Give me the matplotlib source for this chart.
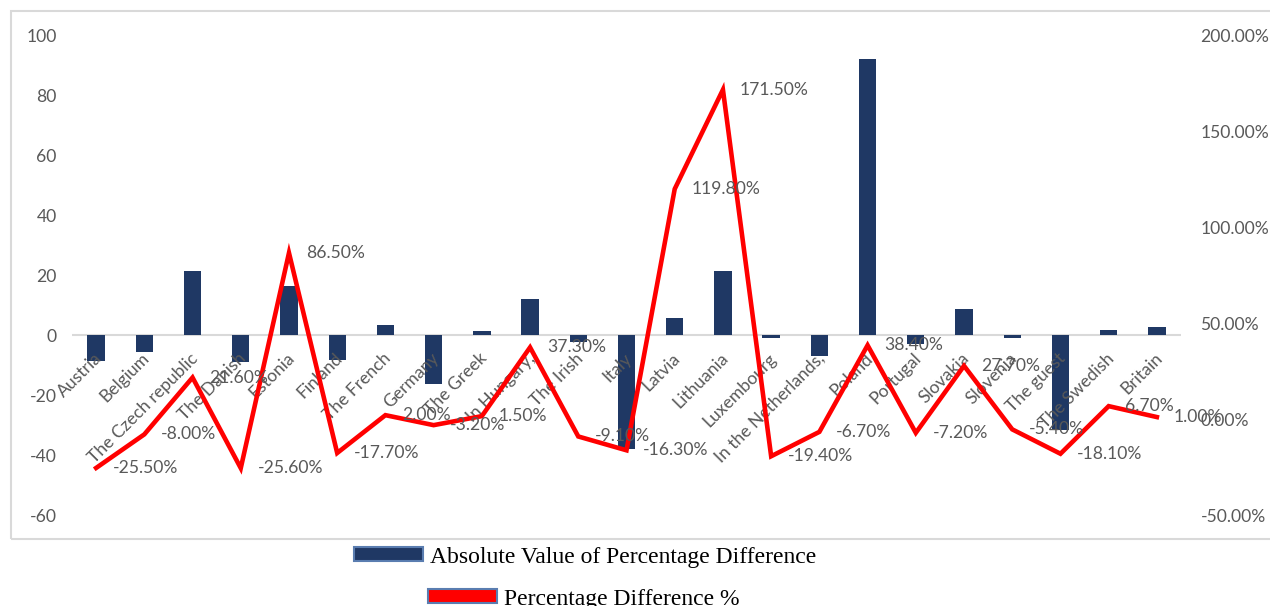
import numpy as np
import matplotlib.pyplot as plt
import matplotlib.patches as mpatches
from matplotlib.ticker import FuncFormatter

# Dados
countries = ["Austria", "Belgium", "The Czech republic", "The Danish", "Estonia",
             "Finland", "The French", "Germany", "The Greek", "In Hungary,",
             "The Irish", "Italy", "Latvia", "Lithuania", "Luxembourg",
             "In the Netherlands,", "Poland", "Portugal", "Slovakia", "Slovenia",
             "The guest", "The Swedish", "Britain"]
abs_diff = [-8.5, -5.7, 21.3, -9.0, 16.4, -8.3, 3.3, -16.3, 1.3, 12.0, -2.3,
            -38.0, 5.8, 21.3, -1.0, -7.0, 92.0, -3.0, 8.7, -1.0, -31.7, 1.7, 2.7]
pct_diff = [-25.5, -8.0, 21.6, -25.6, 86.5, -17.7, 2.0, -3.2, 1.5, 37.3, -9.1,
            -16.3, 119.8, 171.5, -19.4, -6.7, 38.4, -7.2, 27.7, -5.4, -18.1,
            6.7, 1.0]
left_ticks = [-60, -40, -20, 0, 20, 40, 60, 80, 100]
right_ticks = [-50, 0, 50, 100, 150, 200]

bar_color = "#1F3864"
line_color = "#FF0000"
gray_txt = "#595959"
grid_gray = "#D9D9D9"
font = ["Lato", "DejaVu Sans"]
fs = 12.6

plt.rcParams['font.family'] = font
plt.rcParams['axes.unicode_minus'] = False

fig = plt.figure(figsize=(12.7, 6.06), dpi=100)
W, H = 1270, 606

# moldura do grafico
frame = mpatches.Rectangle((11 / W, 1 - 539 / H), 1.1, (539 - 11) / H,
                           transform=fig.transFigure, fill=False,
                           edgecolor=grid_gray, lw=1.5)
fig.patches.append(frame)

ax1 = fig.add_axes([72 / W, 1 - 515 / H, (1181 - 72) / W, (515 - 35) / H])
ax2 = ax1.twinx()

x = np.arange(len(countries))
ax1.bar(x, abs_diff, width=0.36, color=bar_color, zorder=2)
ax1.axhline(0, color=grid_gray, lw=1.5, zorder=1)
ax1.set_xlim(-0.5, len(countries) - 0.5)
ax1.set_ylim(-60, 100)
ax1.set_yticks(left_ticks)
ax1.set_xticks([])
ax1.tick_params(axis='y', length=0, pad=11, labelsize=fs, labelcolor=gray_txt)

for i, name in enumerate(countries):
    ax1.annotate(name, xy=(i, 0), xytext=(2, -15), textcoords='offset points',
                 rotation=45, ha='right', va='center', rotation_mode='anchor',
                 fontsize=fs, color=gray_txt, annotation_clip=False)

ax2.plot(x, pct_diff, color=line_color, lw=3.3, solid_joinstyle='miter')
ax2.set_ylim(-50, 200)
ax2.set_yticks(right_ticks)
ax2.yaxis.set_major_formatter(FuncFormatter(lambda v, p: f"{v:.2f}%"))
ax2.tick_params(axis='y', length=0, pad=14, labelsize=fs, labelcolor=gray_txt)
for lbl in ax2.get_yticklabels():
    lbl.set_horizontalalignment('left')

for i, v in enumerate(pct_diff):
    ax2.annotate(f"{v:.2f}%", xy=(i, v), xytext=(12, 0),
                 textcoords='offset points', ha='left', va='center',
                 fontsize=fs, color=gray_txt, annotation_clip=False)

for a in (ax1, ax2):
    for s in a.spines.values():
        s.set_visible(False)
    a.patch.set_visible(False)

# Legenda
h1 = mpatches.Patch(facecolor=bar_color, edgecolor="#5A7DB0", lw=1.5)
h2 = mpatches.Patch(facecolor=line_color, edgecolor="#5A7DB0", lw=1.5)
leg_font = {'family': ['Liberation Serif'], 'size': 17}
leg1 = fig.legend([h1], ["Absolute Value of Percentage Difference"],
                  loc='center', bbox_to_anchor=(585 / W, 1 - 557 / H),
                  frameon=False, prop=leg_font, handlelength=2.9,
                  handleheight=0.5, handletextpad=0.3, borderpad=0)
leg2 = fig.legend([h2], ["Percentage Difference %"],
                  loc='center', bbox_to_anchor=(584 / W, 1 - 599 / H),
                  frameon=False, prop=leg_font, handlelength=2.9,
                  handleheight=0.5, handletextpad=0.3, borderpad=0)

plt.savefig("out.png", dpi=100)
